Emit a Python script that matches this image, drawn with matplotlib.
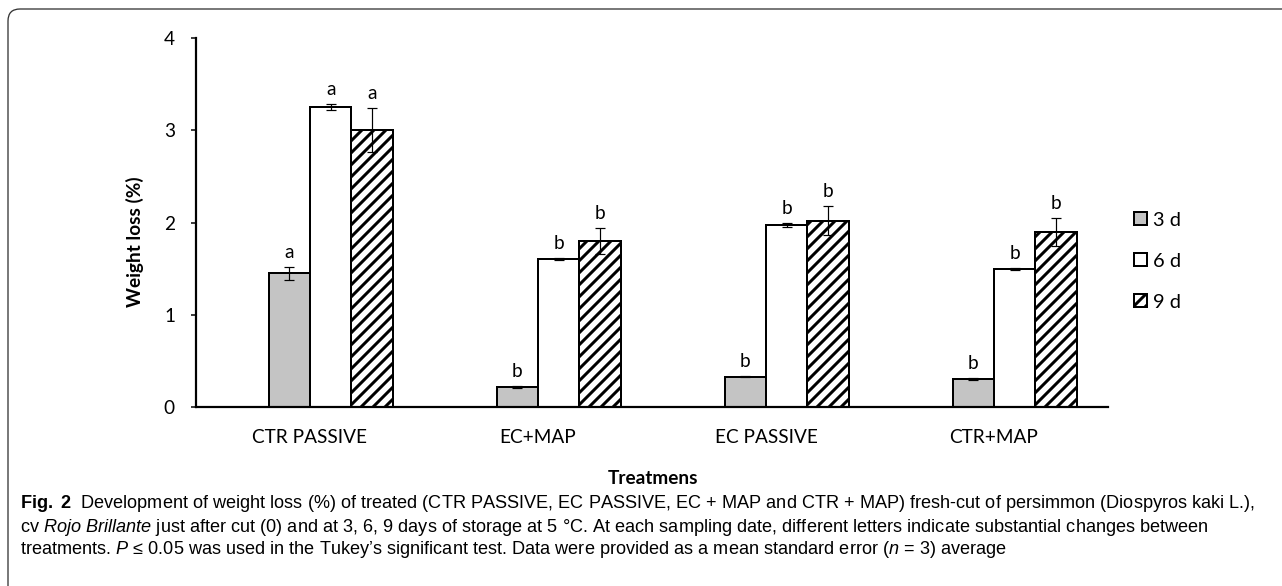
import matplotlib
matplotlib.use("Agg")
import matplotlib.pyplot as plt
import numpy as np
from matplotlib.patches import FancyBboxPatch, Patch

# weight loss (%) per treatment
treatments = ["CTR PASSIVE", "EC+MAP", "EC PASSIVE", "CTR+MAP"]
days = ["0 d", "3 d", "6 d", "9 d"]   # 0 d slot is empty (all zero) as in the original sheet
d3 = [1.45, 0.22, 0.33, 0.30]
d6 = [3.25, 1.60, 1.97, 1.50]
d9 = [3.00, 1.80, 2.02, 1.90]
d3_err = [0.07, 0.01, 0.01, 0.01]
d6_err = [0.03, 0.01, 0.02, 0.01]
d9_err = [0.24, 0.14, 0.16, 0.15]
d3_letters = ["a", "b", "b", "b"]
d6_letters = ["a", "b", "b", "b"]
d9_letters = ["a", "b", "b", "b"]

plt.rcParams['font.family'] = ['Lato', 'DejaVu Sans']
plt.rcParams['hatch.linewidth'] = 3.0
plt.rcParams['mathtext.fontset'] = 'custom'
plt.rcParams['mathtext.rm'] = 'Liberation Sans'
plt.rcParams['mathtext.it'] = 'Liberation Sans:italic'
plt.rcParams['mathtext.bf'] = 'Liberation Sans:bold'

W, H, DPI = 1282, 586, 72
fig = plt.figure(figsize=(W / DPI, H / DPI), dpi=DPI)

# frame round the whole figure (only top-left corner visible)
frame = FancyBboxPatch((8, -60), W + 60, H - 9 + 60,
                       boxstyle="round,pad=0,rounding_size=12",
                       transform=None, fill=False, edgecolor='#333333', lw=1.3)
fig.patches.append(frame)

ax = fig.add_axes([196 / W, (H - 407) / H, 912 / W, 369 / H])

x = np.arange(len(treatments))
w = 0.182
series = [
    (d3, d3_err, d3_letters, dict(facecolor='#c4c4c4', edgecolor='black')),
    (d6, d6_err, d6_letters, dict(facecolor='white', edgecolor='black')),
    (d9, d9_err, d9_letters, dict(facecolor='white', edgecolor='black', hatch='//')),
]
handles = []
for k, (vals, errs, letters, style) in enumerate(series):
    pos = x + (k + 1 - 1.5) * w
    ax.bar(pos, vals, width=w, linewidth=2, zorder=2, **style)
    ax.errorbar(pos, vals, yerr=errs, fmt='none', ecolor='black',
                elinewidth=1.2, capsize=5, capthick=1.2, zorder=3)
    for p, v, e, t in zip(pos, vals, errs, letters):
        ax.annotate(t, (p, v + e), xytext=(0, 6), textcoords='offset points',
                    ha='center', va='bottom', fontsize=19)
    handles.append(Patch(label=days[k + 1], linewidth=2, **style))

ax.set_xlim(-0.5, len(treatments) - 0.5)
ax.set_ylim(0, 4)
ax.set_yticks([0, 1, 2, 3, 4])
ax.set_xticks(x)
ax.set_xticklabels(treatments)
ax.tick_params(axis='x', length=0, pad=22, labelsize=19)
ax.tick_params(axis='y', direction='out', length=5, width=1.5, pad=16, labelsize=19)
for s in ['top', 'right']:
    ax.spines[s].set_visible(False)
for s in ['left', 'bottom']:
    ax.spines[s].set_linewidth(2.2)

fig.text(135 / W, 1 - 242 / H, "Weight loss (%)", rotation=90,
         ha='center', va='center', fontsize=19, fontweight='bold')
fig.text(653 / W, 1 - 478 / H, "Treatmens", ha='center', va='center',
         fontsize=19, fontweight='bold')

fig.legend(handles=handles, loc='center left',
           bbox_to_anchor=(1134 / W, 1 - 261 / H), frameon=False,
           fontsize=20, borderpad=0, borderaxespad=0,
           handlelength=0.65, handleheight=0.65, handletextpad=0.3,
           labelspacing=1.2)

cap = [
    r"$\mathbf{Fig.\ 2}$  Development of weight loss (%) of treated (CTR PASSIVE, EC PASSIVE, EC + MAP and CTR + MAP) fresh-cut of persimmon (Diospyros kaki L.),",
    r"cv $\it{Rojo\ Brillante}$ just after cut (0) and at 3, 6, 9 days of storage at 5 °C. At each sampling date, different letters indicate substantial changes between",
    r"treatments. $\it{P}$ ≤ 0.05 was used in the Tukey’s significant test. Data were provided as a mean standard error ($\it{n}$ = 3) average",
]
cap_texts = []
for i, line in enumerate(cap):
    t = fig.text(20 / W, 1 - (504 + 23 * i) / H, line, ha='left', va='center',
                 fontsize=18, family=['Liberation Sans', 'DejaVu Sans'])
    cap_texts.append(t)

# shrink/grow the caption so the first line ends near the right edge like the original
renderer = fig.canvas.get_renderer()
for _ in range(3):
    wid = cap_texts[0].get_window_extent(renderer).width
    fs = cap_texts[0].get_fontsize() * (1242 / wid)
    for t in cap_texts:
        t.set_fontsize(fs)

fig.savefig("out.png", dpi=DPI)
